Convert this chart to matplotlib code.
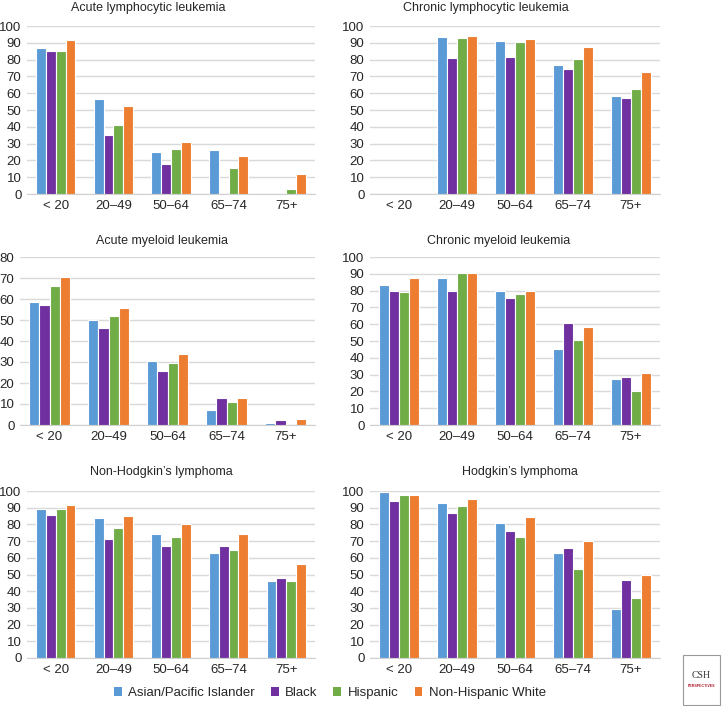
import matplotlib
matplotlib.use('Agg')
import matplotlib.pyplot as plt
from matplotlib.patches import Patch, Rectangle
import numpy as np

plt.rcParams['font.family'] = ['Liberation Sans', 'DejaVu Sans']
fsize = 8.5
txt = '#262626'

ages = ['< 20', '20\u201349', '50\u201364', '65\u201374', '75+']
groups = ['Asian/Pacific Islander', 'Black', 'Hispanic', 'Non-Hispanic White']
colors = ['#5B9BD5', '#7030A0', '#70AD47', '#ED7D31']

# survival (%) per disease, rows = groups, cols = age bands (nan = no bar)
nan = np.nan
all_vals = [[86.9, 56.3, 25.0, 26.0, nan],
            [85.3, 35.3, 17.9, nan, nan],
            [85.3, 40.9, 26.7, 15.7, 3.0],
            [91.9, 52.4, 30.8, 22.4, 12.0]]
cll_vals = [[nan, 93.7, 91.3, 76.8, 58.5],
            [nan, 80.8, 81.5, 74.6, 57.1],
            [nan, 92.7, 90.5, 80.2, 62.5],
            [nan, 94.2, 92.5, 87.3, 72.6]]
aml_vals = [[58.8, 50.2, 30.5, 7.0, 1.1],
            [57.2, 46.1, 25.6, 12.9, 2.4],
            [66.3, 52.0, 29.6, 10.8, nan],
            [70.4, 55.8, 33.7, 13.0, 3.0]]
cml_vals = [[83.1, 87.3, 79.5, 45.1, 27.6],
            [79.5, 79.5, 75.5, 60.6, 28.8],
            [78.9, 90.7, 78.1, 50.7, 20.5],
            [87.5, 90.3, 79.7, 58.3, 31.2]]
nhl_vals = [[89.3, 83.7, 74.0, 62.6, 46.3],
            [85.9, 71.0, 67.0, 66.8, 47.7],
            [89.3, 77.7, 72.4, 64.8, 45.9],
            [91.5, 85.3, 80.3, 74.0, 56.5]]
hl_vals = [[99.6, 93.0, 80.9, 63.0, 29.4],
           [94.0, 86.7, 76.3, 65.6, 46.7],
           [97.4, 90.9, 72.4, 53.5, 36.2],
           [97.4, 95.0, 84.3, 70.2, 49.9]]

titles = ['Acute lymphocytic leukemia', 'Chronic lymphocytic leukemia',
          'Acute myeloid leukemia', 'Chronic myeloid leukemia',
          "Non-Hodgkin\u2019s lymphoma", "Hodgkin\u2019s lymphoma"]
data = [all_vals, cll_vals, aml_vals, cml_vals, nhl_vals, hl_vals]
ymax = [100, 100, 80, 100, 100, 100]

W, H = 723, 706
fig = plt.figure(figsize=(W / 100, H / 100), dpi=100)

# axes boxes in pixels: left, right, top, bottom
boxes = [(27, 315, 26, 194), (370, 660, 26, 194),
         (20, 315, 257, 425), (370, 660, 257, 425),
         (27, 315, 491, 658), (370, 660, 491, 658)]
title_pos = [(148, 8), (486, 8), (162, 241), (499, 241), (161, 472), (520, 472)]

x = np.arange(len(ages))
width = 0.17
for k in range(6):
    l, r, t, b = boxes[k]
    ax = fig.add_axes([l / W, 1 - b / H, (r - l) / W, (b - t) / H])
    for i in range(4):
        vals = np.array(data[k][i], dtype=float)
        ax.bar(x + (i - 1.5) * width, np.nan_to_num(vals), width=width,
               color=colors[i], edgecolor='white', linewidth=0.8, zorder=3)
    ax.set_xlim(-0.5, 4.5)
    ax.set_ylim(0, ymax[k])
    ax.set_yticks(np.arange(0, ymax[k] + 1, 10))
    ax.yaxis.grid(True, color='#d9d9d9', linewidth=1, zorder=0)
    ax.set_axisbelow(True)
    for s in ['top', 'right', 'left']:
        ax.spines[s].set_visible(False)
    ax.spines['bottom'].set_color('#d0d0d0')
    ax.tick_params(length=0, labelsize=fsize + 1, colors=txt, pad=4)
    ax.set_xticks(x)
    ax.set_xticklabels(ages)
    ax.set_facecolor('none')
    tx, ty = title_pos[k]
    fig.text(tx / W, 1 - ty / H, titles[k], ha='center', va='center',
             fontsize=fsize + 0.5, color=txt)

handles = [Patch(facecolor=c, edgecolor='none') for c in colors]
fig.legend(handles, groups, loc='center', bbox_to_anchor=(330 / W, 1 - 693 / H),
           ncol=4, frameon=False, fontsize=fsize + 1, handlelength=0.6,
           handleheight=0.6, handletextpad=0.5, columnspacing=1.2,
           labelcolor=txt)

# small publisher badge, bottom right
badge = Rectangle((683 / W, 1 - 705 / H), 37 / W, 50 / H, transform=fig.transFigure,
                  facecolor='white', edgecolor='#999999', linewidth=0.8)
fig.patches.append(badge)
fig.text(701 / W, 1 - 676 / H, 'CSH', ha='center', va='center', fontsize=7,
         color='#333333', family='Liberation Serif')
fig.text(701 / W, 1 - 686 / H, 'PERSPECTIVES', ha='center', va='center',
         fontsize=2.6, color='#b01c2e', weight='bold')

plt.savefig('out.png', dpi=100)
